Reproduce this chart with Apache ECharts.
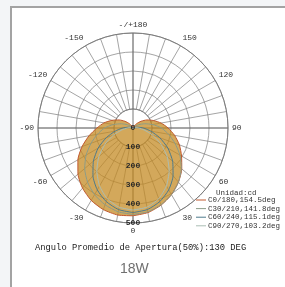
<!DOCTYPE html>
<html>
<head>
<meta charset="utf-8">
<script src="https://cdn.jsdelivr.net/npm/echarts@6/dist/echarts.min.js"></script>
<style>
    html, body { margin: 0; padding: 0; background: #f3f5f7; }
    #frame { position: absolute; left: 10px; top: 6px; width: 290px; height: 300px;
        background: #fff; border-left: 2px solid #a3a3a3; border-top: 2px solid #a3a3a3; }
    #chart { position: absolute; left: 0; top: 0; width: 285px; height: 287px; }
</style>
</head>
<body>
<div id="frame"></div>
<div id="chart"></div>
<script>
// angles 0..360 (0 = nadir, 90 = right, 270 = left i.e. -90)
var ANGLES = [0, 10, 20, 30, 40, 50, 60, 70, 80, 90, 100, 110, 120, 130, 140, 150, 160, 170, 180,
    190, 200, 210, 220, 230, 240, 250, 260, 270, 280, 290, 300, 310, 320, 330, 340, 350, 360];
var RADIUS_TICKS = [0, 100, 200, 300, 400, 500];
var NAMES = ['C0/180,154.5deg', 'C30/210,141.8deg', 'C60/240,115.1deg', 'C90/270,103.2deg'];

// cd values
var c0_180 = [462, 452, 432, 405, 372, 335, 295, 260, 222, 185, 150, 115, 85, 55, 30, 12, 3, 0, 0,
    0, 3, 12, 30, 55, 85, 118, 155, 190, 235, 285, 335, 378, 413, 440, 457, 465, 462];
var c30_210 = [455, 448, 430, 405, 372, 332, 285, 235, 190, 150, 105, 65, 35, 15, 5, 0, 0, 0, 0,
    0, 0, 0, 5, 15, 35, 65, 105, 150, 190, 235, 285, 332, 372, 405, 430, 448, 455];
var c60_240 = [445, 436, 412, 376, 328, 272, 212, 150, 95, 55, 25, 10, 0, 0, 0, 0, 0, 0, 0,
    0, 0, 0, 0, 0, 0, 10, 25, 55, 95, 150, 212, 272, 328, 376, 412, 436, 445];
var c90_270 = [432, 423, 396, 352, 296, 235, 170, 110, 60, 30, 12, 0, 0, 0, 0, 0, 0, 0, 0,
    0, 0, 0, 0, 0, 0, 0, 12, 30, 60, 110, 170, 235, 296, 352, 396, 423, 432];

var colors = ['#c0582e', '#8c9c88', '#4d7a8c', '#aabdb4'];
var mono = 'Liberation Mono';

function pts(vals) {
    return ANGLES.map(function(a, i) { return [vals[i], a]; });
}

var chart = echarts.init(document.getElementById('chart'));

var option = {
    animation: false,
    polar: [
        { center: [133, 128], radius: [0, 95] },
        { center: [133, 128], radius: [19, 95] }
    ],
    angleAxis: [{
        polarIndex: 0,
        type: 'value', min: 0, max: 360, interval: 90,
        startAngle: 270, clockwise: false,
        axisLine: { show: false },
        axisTick: { show: false },
        axisLabel: { show: false },
        splitLine: { show: true, lineStyle: { color: '#555', width: 0.8 } }
    }, {
        polarIndex: 1,
        type: 'value', min: 0, max: 360, interval: 10,
        startAngle: 270, clockwise: false,
        axisLine: { show: true, lineStyle: { color: '#777', width: 0.9 } },
        axisTick: { show: false },
        axisLabel: {
            margin: 4,
            color: '#333',
            fontFamily: mono,
            fontSize: 8,
            formatter: function(v) {
                if (v % 30 !== 0 || v === 360) return '';
                if (v === 180) return '-/+180';
                return v > 180 ? String(v - 360) : String(v);
            }
        },
        splitLine: { show: true, lineStyle: { color: '#7d7d7d', width: 0.7 } }
    }],
    radiusAxis: [{
        polarIndex: 0,
        type: 'value', min: RADIUS_TICKS[0], max: RADIUS_TICKS[RADIUS_TICKS.length - 1], interval: 100,
        axisLine: { show: false },
        axisTick: { show: false },
        splitLine: { show: false },
        axisLabel: {
            margin: 0,
            align: 'center',
            verticalAlign: 'middle',
            color: '#2a2a2a',
            fontFamily: mono,
            fontSize: 8,
            fontWeight: 'bold'
        },
        z: 10
    }, {
        polarIndex: 1,
        type: 'value', min: 100, max: 500, interval: 100,
        axisLine: { show: false },
        axisTick: { show: false },
        axisLabel: { show: false },
        splitLine: { show: true, lineStyle: { color: '#7d7d7d', width: 0.7 } }
    }],
    legend: {
        orient: 'vertical',
        left: 196,
        top: 196,
        icon: 'rect',
        itemWidth: 10,
        itemHeight: 1,
        itemGap: 0.6,
        padding: 0,
        data: NAMES,
        textStyle: { fontFamily: mono, fontSize: 7.5, lineHeight: 7, color: '#333', padding: [0, 0, 0, -3] }
    },
    graphic: [{
        type: 'text', left: 216, top: 189,
        style: { text: 'Unidad:cd', fontFamily: mono, fontSize: 7.5, fill: '#333' }
    }, {
        type: 'text', left: 35, top: 243,
        style: { text: 'Angulo Promedio de Apertura(50%):130 DEG', fontFamily: mono, fontSize: 8.8, fill: '#222' }
    }, {
        type: 'text', left: 120, top: 262,
        style: { text: '18W', fontFamily: 'Liberation Sans', fontSize: 14, fill: '#707070' }
    }],
    series: [{
        name: NAMES[0], type: 'line', coordinateSystem: 'polar', polarIndex: 0,
        data: pts(c0_180), symbol: 'none', smooth: 0.2, color: colors[0],
        lineStyle: { color: colors[0], width: 1 },
        areaStyle: { color: '#c48a22', opacity: 0.74 }
    }, {
        name: NAMES[1], type: 'line', coordinateSystem: 'polar', polarIndex: 0,
        data: pts(c30_210), symbol: 'none', smooth: 0.2, color: colors[1],
        lineStyle: { color: colors[1], width: 1 }
    }, {
        name: NAMES[2], type: 'line', coordinateSystem: 'polar', polarIndex: 0,
        data: pts(c60_240), symbol: 'none', smooth: 0.2, color: colors[2],
        lineStyle: { color: colors[2], width: 1 }
    }, {
        name: NAMES[3], type: 'line', coordinateSystem: 'polar', polarIndex: 0,
        data: pts(c90_270), symbol: 'none', smooth: 0.2, color: colors[3],
        lineStyle: { color: colors[3], width: 1 }
    }]
};
chart.setOption(option);
</script>
</body>
</html>
